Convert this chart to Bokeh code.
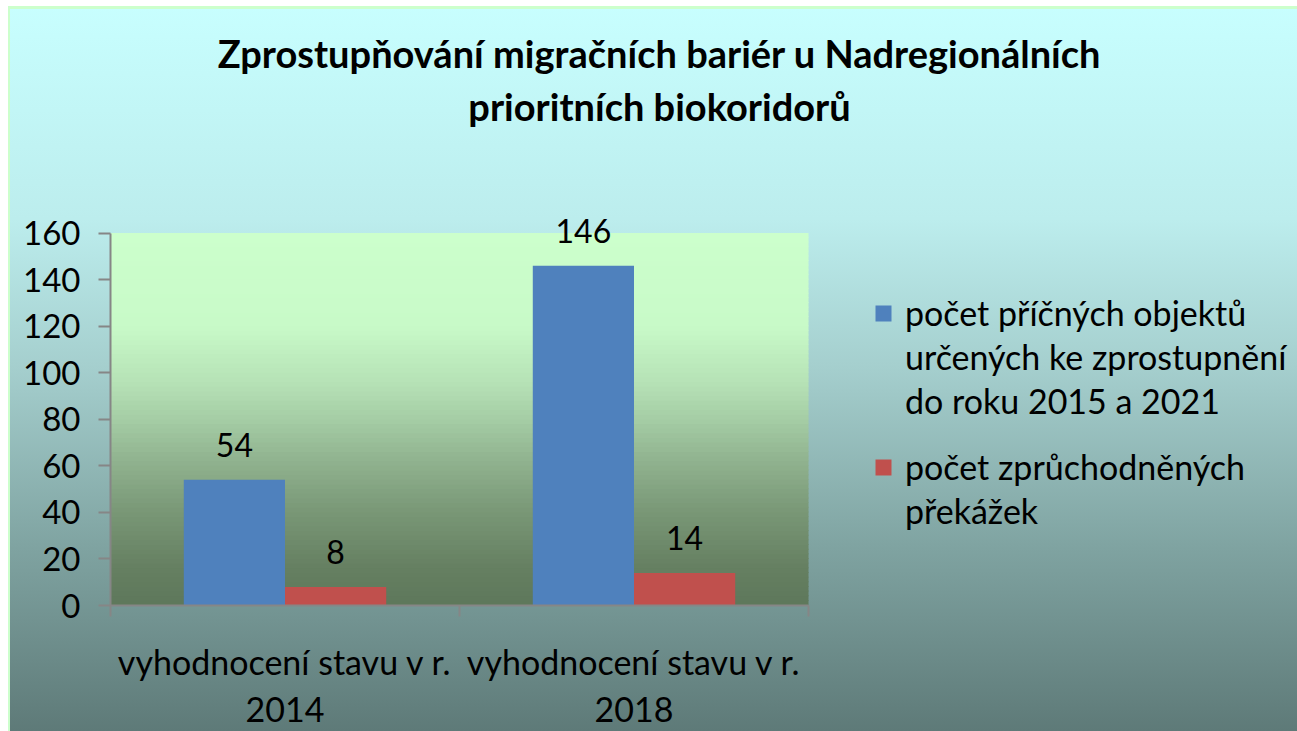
from bokeh.plotting import figure
from bokeh.models import (ColumnDataSource, Range1d, LinearAxis,
                          FixedTicker, Label, Legend, LegendItem, BoxAnnotation)
from bokeh.transform import dodge
from bokeh.embed import file_html
from bokeh.resources import INLINE
from bokeh.core.properties import value

# ---------------- data ----------------
categories = ["vyhodnocení stavu v r.\n2014", "vyhodnocení stavu v r.\n2018"]
series_names = ["počet příčných objektů\nurčených ke zprostupnění\ndo roku 2015 a 2021",
                "počet zprůchodněných\npřekážek"]
objekty = [54, 146]
prekazky = [8, 14]
y_ticks = [0, 20, 40, 60, 80, 100, 120, 140, 160]
title_text = "Zprostupňování migračních bariér u Nadregionálních\nprioritních biokoridorů"

# ---------------- styling ----------------
FONT = "Lato"
BLUE = "#4F81BD"
RED = "#C0504D"
AXIS = "#868686"
W, H = 1297, 731
LEFT, BOTTOM = 110, 125          # space for the axes
PX_PER_CAT, PX_PER_UNIT = 349.0, 373.0 / 160.0
plot_stops = [(0.0, (204, 255, 204)), (0.25, (200, 250, 200)), (0.4, (182, 226, 182)),
              (0.5, (165, 205, 165)), (0.6, (146, 181, 145)), (0.75, (121, 151, 118)),
              (0.9, (101, 127, 97)), (1.0, (94, 120, 91))]


def interp(stops, f):
    for (f0, c0), (f1, c1) in zip(stops[:-1], stops[1:]):
        if f0 <= f <= f1:
            t = (f - f0) / (f1 - f0) if f1 > f0 else 0
            return "#%02x%02x%02x" % tuple(int(round(a + (b - a) * t)) for a, b in zip(c0, c1))
    return "#%02x%02x%02x" % stops[-1][1]


n = len(categories)
centers = [i + 0.5 for i in range(n)]
src = ColumnDataSource(dict(xc=centers, objekty=objekty, prekazky=prekazky,
                            lo=[str(v) for v in objekty], lp=[str(v) for v in prekazky]))

# the frame fills everything except the axis strips, so that title and legend
# (drawn inside it) are not clipped; the plotting area is bounded by the axes.
x_end = (W - LEFT) / PX_PER_CAT
y_end = (H - BOTTOM) / PX_PER_UNIT
p = figure(x_range=Range1d(0, x_end), y_range=Range1d(0, y_end), width=W, height=H,
           output_backend="svg", toolbar_location=None, x_axis_location=None,
           y_axis_location=None, min_border_left=LEFT, min_border_right=0,
           min_border_top=0, min_border_bottom=BOTTOM)
p.border_fill_color = None
p.background_fill_color = None
p.outline_line_color = None
p.grid.visible = False
p.styles = {"background": "linear-gradient(180deg, #C8FFFF 0%, #BCEDED 30%, #A5CFCE 50%, #7FA3A1 75%, #5E7A78 100%)",
            "box-shadow": "inset 8px 6px 0 0 #FFFFFF, inset 10px 9px 0 0 #CCFFCC"}

# plot-area gradient (decoration)
N = 80
ymax = y_ticks[-1]
for i in range(N):
    b = ymax * i / N
    t = ymax * (i + 1) / N
    f = 1 - (i + 0.5) / N
    p.add_layout(BoxAnnotation(left=0, right=n, bottom=b, top=min(t + 0.4, ymax),
                               fill_color=interp(plot_stops, f),
                               fill_alpha=1, line_color=None, level="underlay"))

bw = 0.29
r1 = p.vbar(x=dodge("xc", -0.145), top="objekty", width=bw, source=src,
            fill_color=BLUE, line_color=None)
r2 = p.vbar(x=dodge("xc", 0.145), top="prekazky", width=bw, source=src,
            fill_color=RED, line_color=None)

lbl_kw = dict(text_align="center", text_baseline="middle", text_font_size="32px",
              text_color="black", y_offset=-35, source=src, text_font=value(FONT))
p.text(x=dodge("xc", -0.145), y="objekty", text="lo", **lbl_kw)
p.text(x=dodge("xc", 0.145), y="prekazky", text="lp", **lbl_kw)

# y axis
yax = LinearAxis(ticker=FixedTicker(ticks=y_ticks), bounds=(0, ymax))
yax.axis_line_color = AXIS
yax.axis_line_width = 2
yax.major_tick_line_color = AXIS
yax.major_tick_line_width = 2
yax.major_tick_in = 0
yax.major_tick_out = 12
yax.minor_tick_line_color = None
yax.major_label_standoff = 18
yax.major_label_text_font = FONT
yax.major_label_text_font_size = "33px"
yax.major_label_text_color = "black"
p.add_layout(yax, "left")

# x axis: ticks at category boundaries
xtick = LinearAxis(ticker=FixedTicker(ticks=list(range(n + 1))), bounds=(0, n))
xtick.major_label_overrides = {i: "" for i in range(n + 1)}
xtick.major_label_text_font_size = "0px"
xtick.axis_line_color = AXIS
xtick.axis_line_width = 2
xtick.major_tick_line_color = AXIS
xtick.major_tick_line_width = 2
xtick.major_tick_in = 0
xtick.major_tick_out = 11
xtick.minor_tick_line_color = None
xtick.major_label_standoff = 0
p.add_layout(xtick, "below")

# x axis: category labels at category centres
xcat = LinearAxis(ticker=FixedTicker(ticks=centers), bounds=(0, n))
xcat.major_label_overrides = {c: lab for c, lab in zip(centers, categories)}
xcat.axis_line_color = None
xcat.major_tick_line_color = None
xcat.minor_tick_line_color = None
xcat.major_label_standoff = 18
xcat.major_label_text_font = FONT
xcat.major_label_text_font_size = "34px"
xcat.major_label_text_line_height = 1.15
xcat.major_label_text_color = "black"
p.add_layout(xcat, "below")

# title
p.add_layout(Label(x=549, y=526, x_units="screen", y_units="screen", text=title_text,
                   text_align="center", text_baseline="middle", text_font=FONT,
                   text_font_style="bold", text_font_size="38px", text_line_height=1.16,
                   text_color="black"))

# legend: one block per series, the marker beside the first line of its name
legend_kw = dict(padding=0, margin=0, spacing=3, glyph_width=20, glyph_height=20,
                 label_standoff=12, label_text_font=FONT, label_text_font_size="34px",
                 label_text_color="black", border_line_color=None, background_fill_alpha=0)
lines_a = series_names[0].split("\n")
lines_b = series_names[1].split("\n")
legend_a = Legend(items=[LegendItem(label=lines_a[0], renderers=[r1])] +
                  [LegendItem(label=s, renderers=[]) for s in lines_a[1:]],
                  location=(763, 184), **legend_kw)
legend_b = Legend(items=[LegendItem(label=lines_b[0], renderers=[r2])] +
                  [LegendItem(label=s, renderers=[]) for s in lines_b[1:]],
                  location=(763, 74), **legend_kw)
p.add_layout(legend_a, "center")
p.add_layout(legend_b, "center")

open("out.html", "w").write(file_html(p, INLINE))
